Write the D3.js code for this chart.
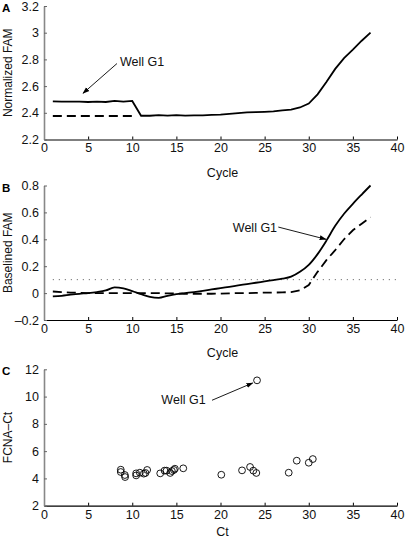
<!DOCTYPE html>
<html><head><meta charset="utf-8">
<script src="https://cdn.jsdelivr.net/npm/d3@7"></script>
<style>
body{margin:0;background:#fff;}
svg{display:block;font-family:"Liberation Sans",Arial,Helvetica,sans-serif;}
</style></head><body>
<svg id="c" width="405" height="538"></svg>
<script>
// ---- data ----
const cycles = [1,2,3,4,5,6,7,8,9,10,11,12,13,14,15,16,17,18,19,20,21,22,23,24,25,26,27,28,29,30,31,32,33,34,35,36,37];
const normG1 = [2.486,2.484,2.484,2.484,2.481,2.484,2.481,2.489,2.484,2.489,2.378,2.378,2.382,2.379,2.382,2.379,2.381,2.381,2.385,2.387,2.392,2.398,2.403,2.405,2.407,2.41,2.418,2.424,2.44,2.469,2.538,2.63,2.729,2.81,2.873,2.94,3.0];
const normCyclesDashed = [1,2,3,4,5,6,7,8,9,10];
const normDashed = [2.376,2.376,2.376,2.376,2.376,2.376,2.376,2.376,2.376,2.376];
const baseG1 = [-0.025,-0.02,-0.012,-0.005,0.0,0.008,0.02,0.042,0.035,0.015,-0.008,-0.028,-0.035,-0.02,-0.008,0.0,0.008,0.017,0.027,0.037,0.047,0.057,0.067,0.077,0.087,0.097,0.107,0.122,0.158,0.21,0.29,0.39,0.5,0.59,0.664,0.733,0.8];
const baseDashed = [0.012,0.008,0.004,0.002,0.0,0.0,0.0,0.0,0.0,0.0,0.0,0.0,0.0,-0.002,-0.003,-0.005,-0.005,-0.005,-0.005,-0.004,-0.002,0.0,0.0,0.002,0.003,0.004,0.005,0.008,0.02,0.06,0.158,0.245,0.32,0.4,0.467,0.516,0.565];
const threshold = 0.1;
const thresholdRange = [1, 40];
const ctValues = [8.7,8.7,9.16,9.19,10.44,10.44,10.86,11.31,11.5,11.69,13.17,13.66,13.89,14.3,14.49,14.72,14.83,15.78,20.09,22.44,23.35,23.72,24.06,27.73,28.64,30.0,30.46,24.14];
const fcnaCt = [4.64,4.47,4.25,4.1,4.37,4.22,4.42,4.35,4.4,4.62,4.37,4.57,4.57,4.4,4.54,4.62,4.71,4.74,4.27,4.59,4.84,4.57,4.4,4.42,5.3,5.15,5.42,11.19];
const xTicks = [0,5,10,15,20,25,30,35,40];
const xTickLabels = ["0","5","10","15","20","25","30","35","40"];
const yTicksA = [2.2,2.4,2.6,2.8,3.0,3.2];
const yTickLabelsA = ["2.2","2.4","2.6","2.8","3","3.2"];
const yTicksB = [-0.2,0,0.2,0.4,0.6,0.8];
const yTickLabelsB = ["\u20130.2","0","0.2","0.4","0.6","0.8"];
const yTicksC = [2,4,6,8,10,12];
const yTickLabelsC = ["2","4","6","8","10","12"];
const panelLetters = ["A","B","C"];
const yTitles = ["Normalized FAM","Baselined FAM","FCNA\u2013Ct"];
const xTitles = ["Cycle","Cycle","Ct"];
const annLabel = "Well G1";
// annotation anchors in data units: [textX, textY, arrowX1, arrowY1, arrowX2, arrowY2]
const annA = [8.6, 2.784, 8.27, 2.769, 4.42, 2.546];
const annB = [21.4, 0.487, 26.55, 0.491, 31.95, 0.40];
const annC = [13.3, 9.78, 19.04, 9.73, 23.65, 11.0];

// ---- layout ----
const svg = d3.select("#c");
const L = 44, R = 397;
const panels = [
  {top:6, bottom:139.5, dom:[2.2,3.2], ticks:yTicksA, labels:yTickLabelsA, ann:annA, xt:37},
  {top:185.5, bottom:320, dom:[-0.2,0.8], ticks:yTicksB, labels:yTickLabelsB, ann:annB, xt:37},
  {top:369.3, bottom:505.7, dom:[2,12], ticks:yTicksC, labels:yTickLabelsC, ann:annC, xt:30.5}
];
const x = d3.scaleLinear().domain([0,40]).range([L,R]);

svg.append("defs").append("marker")
  .attr("id","ah").attr("viewBox","0 0 10 10").attr("refX",9).attr("refY",5)
  .attr("markerWidth",7).attr("markerHeight",7).attr("markerUnits","userSpaceOnUse")
  .attr("orient","auto")
  .append("path").attr("d","M0,1.5L10,5L0,8.5Z").attr("fill","#000");

panels.forEach((p,i)=>{
  p.y = d3.scaleLinear().domain(p.dom).range([p.bottom,p.top]);
  const g = svg.append("g");
  // x axis
  const xa = g.append("g").attr("transform",`translate(0,${p.bottom})`)
    .call(d3.axisBottom(x).tickValues(xTicks).tickFormat((d,j)=>xTickLabels[j]).tickSizeInner(-3).tickSizeOuter(0).tickPadding(4));
  xa.select(".domain").attr("stroke","#000").attr("stroke-width",1.2);
  xa.selectAll(".tick line").attr("stroke","#000");
  xa.selectAll("text").attr("font-size",12.5).attr("fill","#111").attr("font-family","Liberation Sans, Arial, sans-serif");
  // y axis
  const ya = g.append("g").attr("transform",`translate(${L},0)`)
    .call(d3.axisLeft(p.y).tickValues(p.ticks).tickFormat((d,j)=>p.labels[j]).tickSizeInner(-3).tickSizeOuter(0).tickPadding(5));
  ya.select(".domain").attr("stroke","#888").attr("stroke-width",1.6);
  ya.selectAll(".tick line").attr("stroke","#666");
  ya.selectAll("text").attr("font-size",12.5).attr("fill","#111").attr("font-family","Liberation Sans, Arial, sans-serif");
  // titles
  g.append("text").attr("x",(L+R)/2+2).attr("y",p.bottom+p.xt).attr("text-anchor","middle")
    .attr("font-size",12.5).attr("fill","#111").text(xTitles[i]);
  g.append("text").attr("transform",`translate(12,${(p.top+p.bottom)/2}) rotate(-90)`)
    .attr("text-anchor","middle").attr("font-size",12).attr("fill","#111").text(yTitles[i]);
  g.append("text").attr("x",2).attr("y",p.top+6).attr("font-size",11.5).attr("font-weight","bold").attr("fill","#000").text(panelLetters[i]);
  // annotation
  const a = p.ann;
  g.append("text").attr("x",x(a[0])).attr("y",p.y(a[1])).attr("dy","0.36em")
    .attr("font-size",12.5).attr("fill","#111").text(annLabel);
  g.append("line").attr("x1",x(a[2])).attr("y1",p.y(a[3])).attr("x2",x(a[4])).attr("y2",p.y(a[5]))
    .attr("stroke","#000").attr("stroke-width",0.9).attr("marker-end","url(#ah)");
});

const line = (yS)=>d3.line().x(d=>x(d[0])).y(d=>yS(d[1]));
// panel A
const pA = panels[0];
svg.append("path").datum(normCyclesDashed.map((c,i)=>[c,normDashed[i]]))
  .attr("d",line(pA.y)).attr("fill","none").attr("stroke","#000").attr("stroke-width",1.8).attr("stroke-dasharray","9,5");
svg.append("path").datum(cycles.map((c,i)=>[c,normG1[i]]))
  .attr("d",line(pA.y)).attr("fill","none").attr("stroke","#000").attr("stroke-width",1.8);
// panel B
const pB = panels[1];
svg.append("path").datum(thresholdRange.map(c=>[c,threshold]))
  .attr("d",line(pB.y)).attr("fill","none").attr("stroke","#555").attr("stroke-width",1).attr("stroke-dasharray","1,5");
svg.append("path").datum(cycles.map((c,i)=>[c,baseDashed[i]]))
  .attr("d",line(pB.y)).attr("fill","none").attr("stroke","#000").attr("stroke-width",1.8).attr("stroke-dasharray","9,5");
svg.append("path").datum(cycles.map((c,i)=>[c,baseG1[i]]))
  .attr("d",line(pB.y).curve(d3.curveMonotoneX)).attr("fill","none").attr("stroke","#000").attr("stroke-width",1.8);
// panel C
const pC = panels[2];
svg.append("g").selectAll("circle").data(ctValues.map((c,i)=>[c,fcnaCt[i]])).join("circle")
  .attr("cx",d=>x(d[0])).attr("cy",d=>pC.y(d[1])).attr("r",3.4)
  .attr("fill","none").attr("stroke","#000").attr("stroke-width",0.9);
</script></body></html>
